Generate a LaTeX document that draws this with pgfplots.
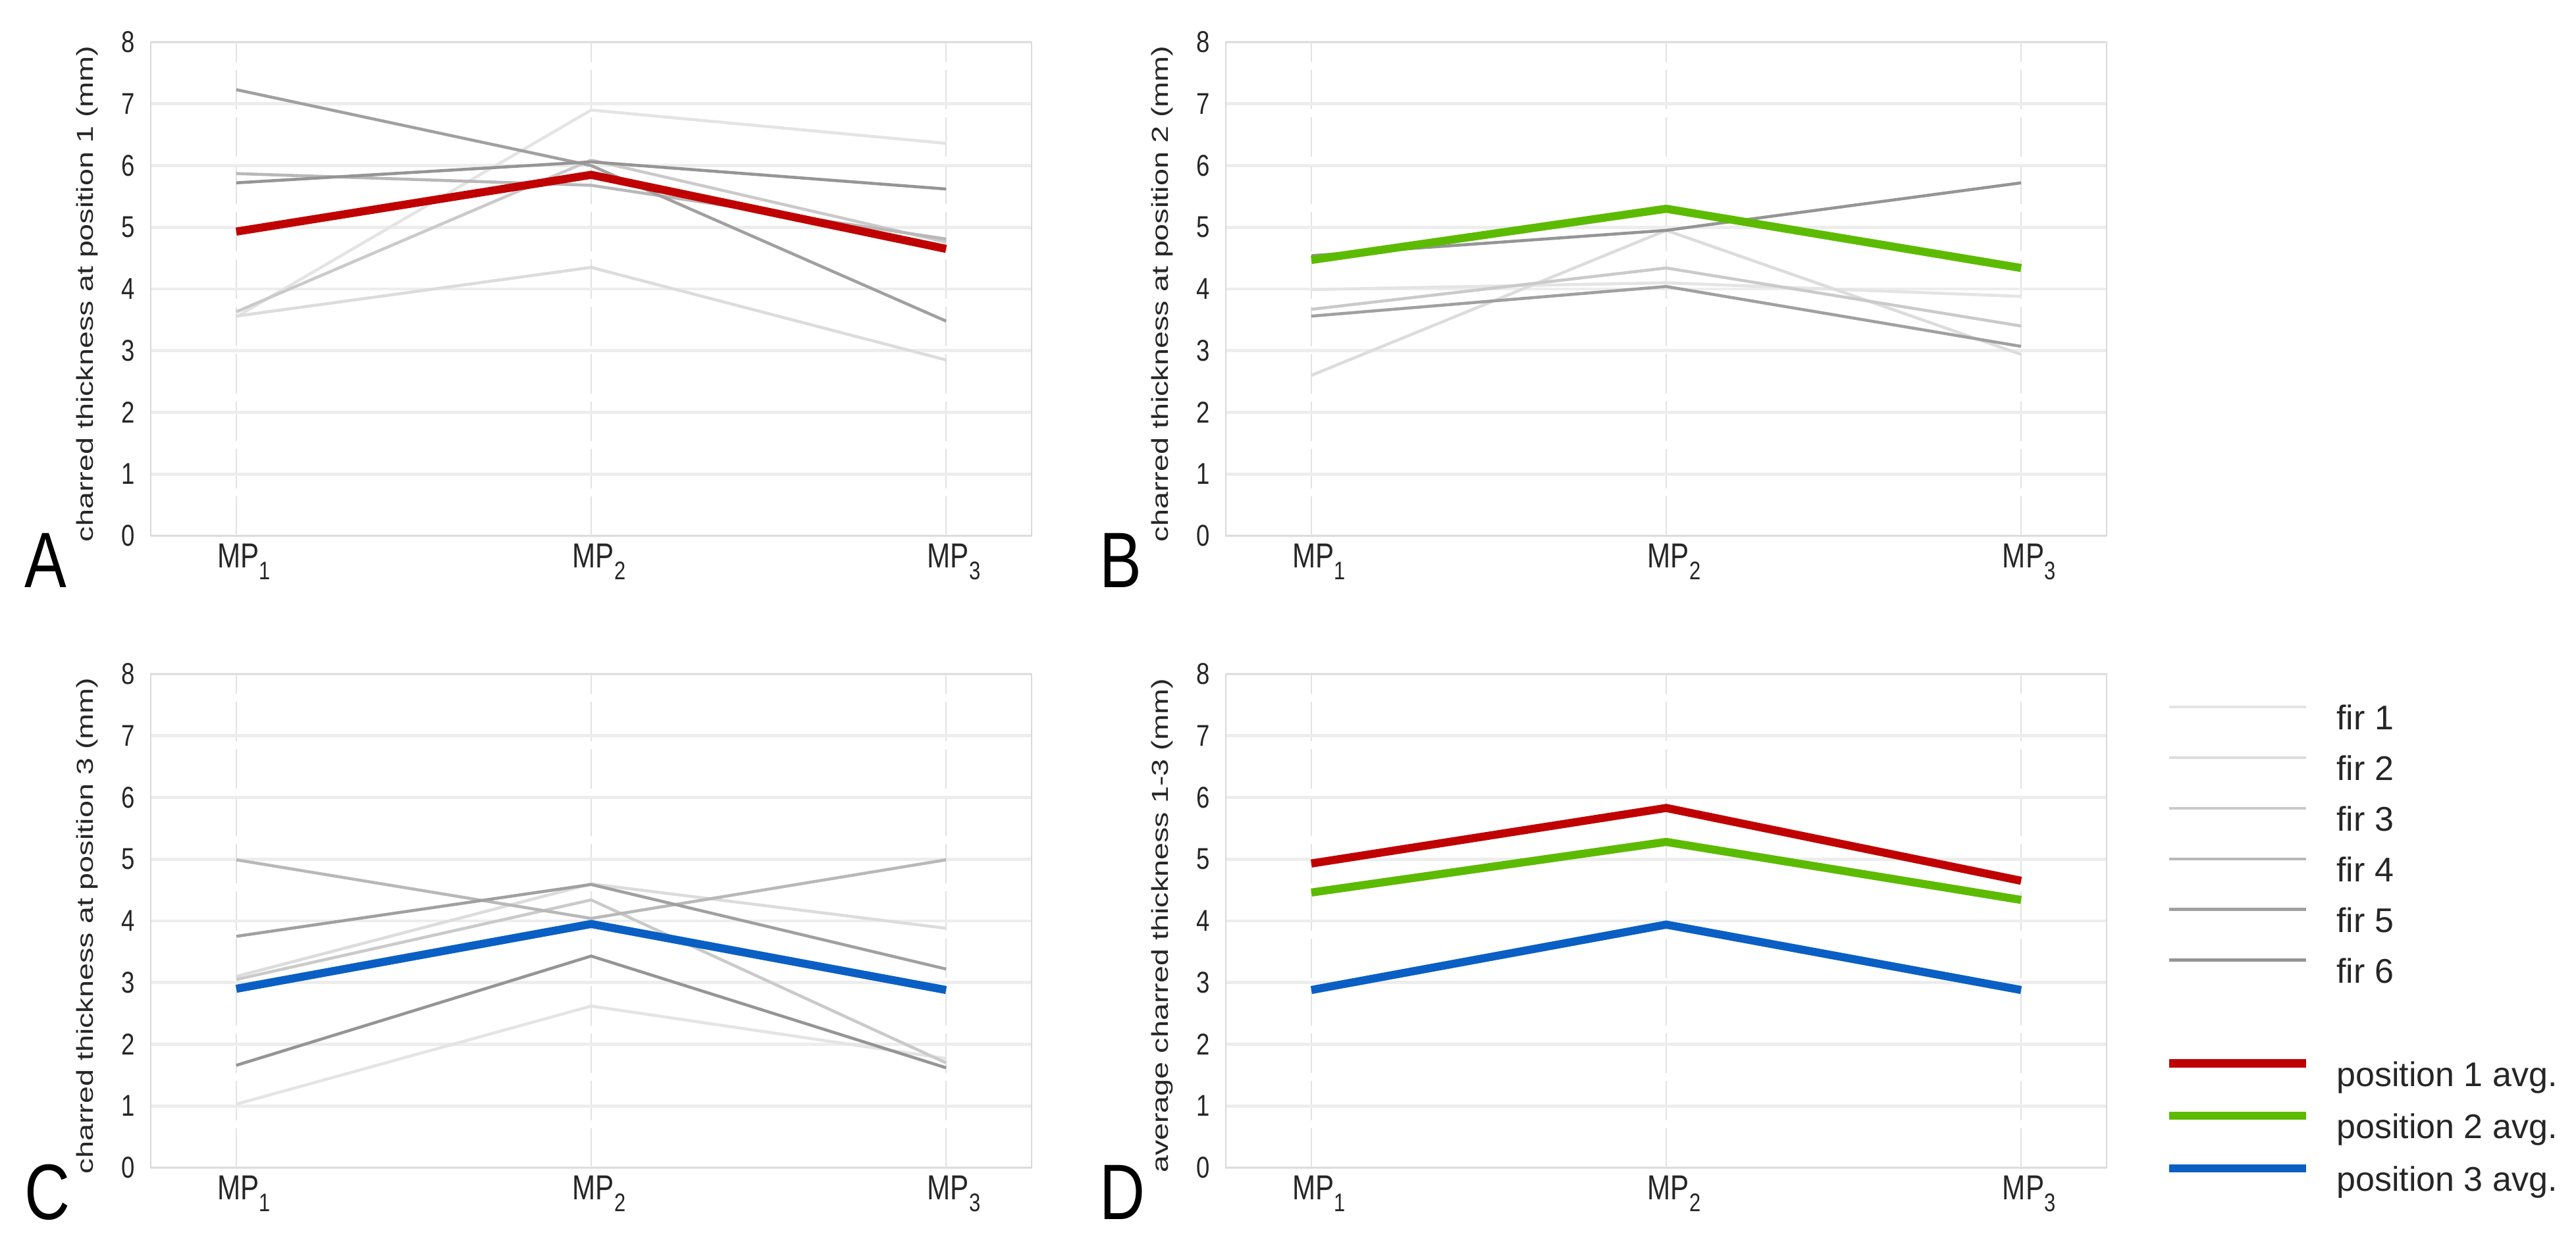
\documentclass[border=0pt]{standalone}
\usepackage{fontspec}
\setmainfont{Liberation Sans}
\newfontfamily\condfont{Liberation Sans}[FakeStretch=0.8]
\newfontfamily\widefont{Liberation Sans}[FakeStretch=1.33]
\usepackage{pgfplots}
\pgfplotsset{compat=1.18}

\definecolor{firAc}{HTML}{E4E4E4}
\definecolor{firBc}{HTML}{DCDCDC}
\definecolor{firCc}{HTML}{CACACA}
\definecolor{firDc}{HTML}{B8B8B8}
\definecolor{firEc}{HTML}{A0A0A0}
\definecolor{firFc}{HTML}{959595}
\definecolor{avgred}{HTML}{C00000}
\definecolor{avggreen}{HTML}{5CBB00}
\definecolor{avgblue}{HTML}{0A5FC4}
\definecolor{gridc}{HTML}{EDEDED}
\definecolor{vgridc}{HTML}{E2E2E2}
\definecolor{framec}{HTML}{DADADA}

\newcommand{\mplab}[1]{MP\raisebox{-5pt}{\fontsize{11}{11}\selectfont #1}}

\pgfplotsset{
  panel/.style={
    scale only axis, width=13.38cm, height=7.50cm,
    xmin=0.759, xmax=3.241, ymin=0, ymax=8,
    xtick={1,2,3},
    xticklabels={\mplab{1},\mplab{2},\mplab{3}},
    ytick={0,...,8},
    major tick length=0pt,
    xmajorgrids, ymajorgrids,
    major y grid style={draw=gridc, line width=1.4pt},
    major x grid style={draw=vgridc, line width=0.7pt, dash pattern=on 0.6cm off 0.12cm},
    axis line style={draw=framec, line width=0.8pt},
    tick label style={text=black!85},
    xticklabel style={font=\condfont\fontsize{15}{15}\selectfont, xshift=0.12cm},
    yticklabel style={font=\condfont\fontsize{13}{13}\selectfont, xshift=-0.12cm},
    /pgf/number format/assume math mode=true,
    ylabel style={font=\widefont\fontsize{10}{10}\selectfont, text=black!85,
      at={(axis description cs:-0.0725,0.49)}, anchor=center},
  },
  fir1/.style={draw=firAc, line width=1.3pt},
  fir2/.style={draw=firBc, line width=1.3pt},
  fir3/.style={draw=firCc, line width=1.3pt},
  fir4/.style={draw=firDc, line width=1.3pt},
  fir5/.style={draw=firEc, line width=1.3pt},
  fir6/.style={draw=firFc, line width=1.3pt},
  avg/.style={line width=3.5pt},
}

\begin{document}
\begin{tikzpicture}
\path[use as bounding box] (0,0) rectangle (39.13cm,-18.99cm);

% A
\begin{axis}[panel, at={(2.29cm,-8.14cm)}, anchor=south west,
  ylabel={charred thickness at position 1 (mm)}]
  \addplot[fir1] coordinates {(1,3.55) (2,6.90) (3,6.36)};
  \addplot[fir2] coordinates {(1,3.56) (2,4.35) (3,2.85)};
  \addplot[fir3] coordinates {(1,3.63) (2,6.09) (3,4.76)};
  \addplot[fir4] coordinates {(1,5.87) (2,5.68) (3,4.81)};
  \addplot[fir5] coordinates {(1,7.23) (2,6.00) (3,3.48)};
  \addplot[fir6] coordinates {(1,5.72) (2,6.06) (3,5.62)};
  \addplot[avg, avgred] coordinates {(1,4.93) (2,5.85) (3,4.65)};
\end{axis}

% B
\begin{axis}[panel, at={(18.62cm,-8.14cm)}, anchor=south west,
  ylabel={charred thickness at position 2 (mm)}]
  \addplot[fir1] coordinates {(1,3.99) (2,4.10) (3,3.88)};
  \addplot[fir2] coordinates {(1,2.60) (2,4.95) (3,2.94)};
  \addplot[fir3] coordinates {(1,3.67) (2,4.34) (3,3.40)};
  \addplot[fir5] coordinates {(1,3.56) (2,4.04) (3,3.07)};
  \addplot[fir6] coordinates {(1,4.54) (2,4.95) (3,5.72)};
  \addplot[avg, avggreen] coordinates {(1,4.47) (2,5.30) (3,4.34)};
\end{axis}

% C
\begin{axis}[panel, at={(2.29cm,-17.74cm)}, anchor=south west,
  ylabel={charred thickness at position 3 (mm)}]
  \addplot[fir1] coordinates {(1,1.03) (2,2.62) (3,1.77)};
  \addplot[fir2] coordinates {(1,3.10) (2,4.60) (3,3.88)};
  \addplot[fir3] coordinates {(1,3.05) (2,4.34) (3,1.70)};
  \addplot[fir4] coordinates {(1,4.99) (2,4.04) (3,4.99)};
  \addplot[fir5] coordinates {(1,3.75) (2,4.59) (3,3.22)};
  \addplot[fir6] coordinates {(1,1.66) (2,3.43) (3,1.62)};
  \addplot[avg, avgblue] coordinates {(1,2.90) (2,3.95) (3,2.88)};
\end{axis}

% D
\begin{axis}[panel, at={(18.62cm,-17.74cm)}, anchor=south west,
  ylabel={average charred thickness 1-3 (mm)},
  legend cell align=left,
  legend image code/.code={\path (0cm,0pt); \draw[#1] (0cm,6pt) -- (2.08cm,6pt);},
  legend style={draw=none, fill=none, inner sep=0pt, outer sep=0pt,
    at={(rel axis cs:1,1)}, anchor=north west, xshift=0.89cm, yshift=-0.465cm,
    font=\fontsize{14.8}{14.8}\selectfont,
    row sep=8pt, column sep=0.40cm,
    nodes={inner sep=0pt, text height=10.8pt, text depth=3.1pt, text=black!85}}]
  \addlegendimage{fir1}\addlegendentry{fir 1}
  \addlegendimage{fir2}\addlegendentry{fir 2}
  \addlegendimage{fir3}\addlegendentry{fir 3}
  \addlegendimage{fir4}\addlegendentry{fir 4}
  \addlegendimage{fir5}\addlegendentry{fir 5}
  \addlegendimage{fir6}\addlegendentry{fir 6}
  \addlegendimage{empty legend}\addlegendentry{}
  \addplot[avg, avgred] coordinates {(1,4.93) (2,5.83) (3,4.65)};
  \addlegendentry{position 1 avg.}
  \addplot[avg, avggreen] coordinates {(1,4.46) (2,5.28) (3,4.34)};
  \addlegendentry{position 2 avg.}
  \addplot[avg, avgblue] coordinates {(1,2.88) (2,3.94) (3,2.88)};
  \addlegendentry{position 3 avg.}
\end{axis}

\begin{scope}[every node/.style={anchor=base west, inner sep=0pt,
    font=\condfont\fontsize{34}{34}\selectfont}]
  \node at (0.37cm,-8.92cm) {A};
  \node at (16.70cm,-8.92cm) {B};
  \node at (0.37cm,-18.52cm) {C};
  \node at (16.70cm,-18.52cm) {D};
\end{scope}
\end{tikzpicture}
\end{document}
